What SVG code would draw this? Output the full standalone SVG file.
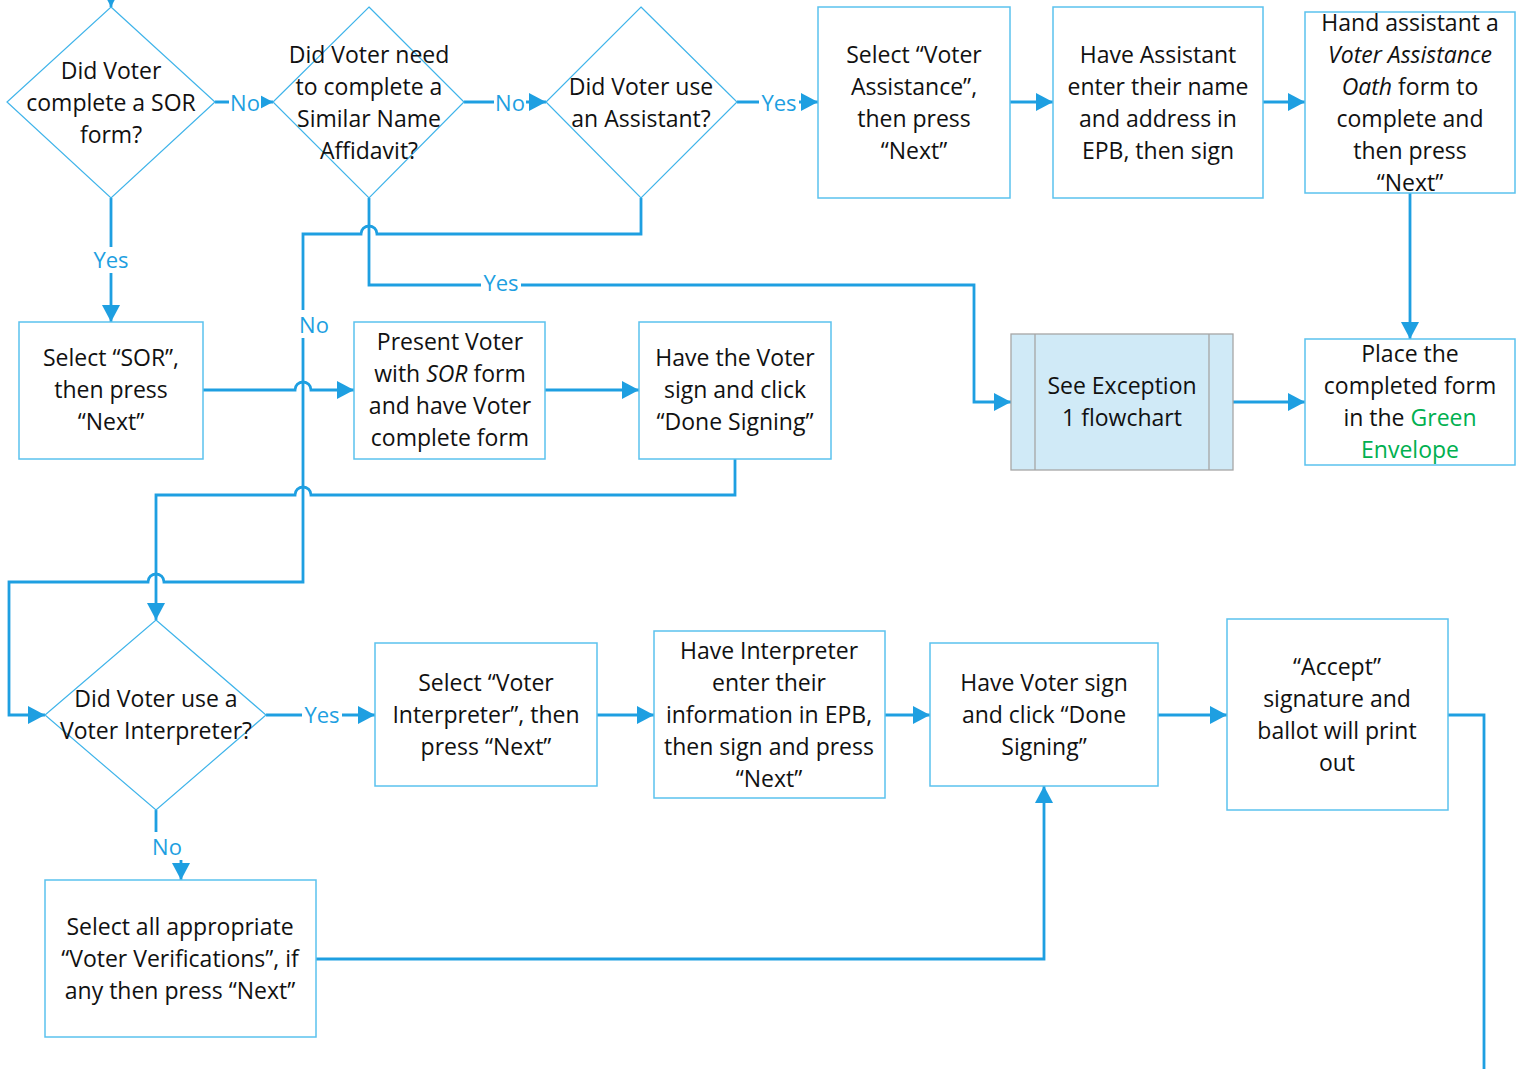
<svg xmlns="http://www.w3.org/2000/svg" width="1516" height="1069" viewBox="0 0 1516 1069">
<defs>
<style>
.n{fill:#fff;stroke:#5bc2ee;stroke-width:1.5}
.d{fill:#fff;stroke:#3fb4ea;stroke-width:1.2}
.t{font-family:"Open Sans","Noto Sans",sans-serif;font-size:23px;fill:#111;text-anchor:middle}
.c{fill:none;stroke:#1e9fe1;stroke-width:2.8}
.l{font-family:"Open Sans","Noto Sans",sans-serif;font-size:22px;fill:#1e9fe1;text-anchor:middle}
.lb{fill:#fff}
.g{fill:#00b050}
.i{font-style:italic}
</style>
<marker id="a" markerUnits="userSpaceOnUse" markerWidth="18" markerHeight="18" viewBox="0 0 18 18" refX="17" refY="9" orient="auto">
<path d="M0 0 L17 9 L0 18 Z" fill="#1e9fe1"/>
</marker>
</defs>
<rect width="1516" height="1069" fill="#fff"/>

<g id="connectors">
<path class="c" d="M111 -10 V7" marker-end="url(#a)"/>
<path class="c" d="M215 102 H273" marker-end="url(#a)"/>
<path class="c" d="M464 102 H546" marker-end="url(#a)"/>
<path class="c" d="M737 102 H818" marker-end="url(#a)"/>
<path class="c" d="M1010 102 H1053" marker-end="url(#a)"/>
<path class="c" d="M1263 102 H1305" marker-end="url(#a)"/>
<path class="c" d="M1410 193 V339" marker-end="url(#a)"/>
<path class="c" d="M1233 402 H1305" marker-end="url(#a)"/>
<path class="c" d="M111 198 V322" marker-end="url(#a)"/>
<path class="c" d="M369 198 V285 H974 V402 H1011" marker-end="url(#a)"/>
<path class="c" d="M641 198 V234 H377 A8 8 0 0 0 361 234 H303 V582 H164 A8 8 0 0 0 148 582 H9 V715 H45" marker-end="url(#a)"/>
<path class="c" d="M203 390 H295 A8 8 0 0 1 311 390 H354" marker-end="url(#a)"/>
<path class="c" d="M545 390 H639" marker-end="url(#a)"/>
<path class="c" d="M735 459 V495 H311 A8 8 0 0 0 295 495 H156 V620" marker-end="url(#a)"/>
<path class="c" d="M266 715 H375" marker-end="url(#a)"/>
<path class="c" d="M597 715 H654" marker-end="url(#a)"/>
<path class="c" d="M885 715 H930" marker-end="url(#a)"/>
<path class="c" d="M1158 715 H1227" marker-end="url(#a)"/>
<path class="c" d="M1448 715 H1484 V1069"/>
<path class="c" d="M156 810 V847 H181 V880" marker-end="url(#a)"/>
<path class="c" d="M316 959 H1044 V786" marker-end="url(#a)"/>
<rect class="lb" x="229" y="90" width="32" height="26"/><text class="l" x="245" y="111">No</text>
<rect class="lb" x="494" y="90" width="32" height="26"/><text class="l" x="510" y="111">No</text>
<rect class="lb" x="759" y="90" width="40" height="26"/><text class="l" x="779" y="111">Yes</text>
<rect class="lb" x="91" y="247" width="40" height="26"/><text class="l" x="111" y="268">Yes</text>
<rect class="lb" x="481" y="272" width="40" height="26"/><text class="l" x="501" y="291">Yes</text>
<rect class="lb" x="298" y="310" width="32" height="28"/><text class="l" x="314" y="333">No</text>
<rect class="lb" x="302" y="702" width="40" height="26"/><text class="l" x="322" y="723">Yes</text>
<rect class="lb" x="151" y="832" width="32" height="28"/><text class="l" x="167" y="855">No</text>
</g>

<g id="d1"><path class="d" d="M111 7 L215 102 L111 198 L7 102 Z"/>
<text class="t"><tspan x="111" y="79">Did Voter</tspan><tspan x="111" y="111">complete a SOR</tspan><tspan x="111" y="143">form?</tspan></text></g>

<g id="d2"><path class="d" d="M369 7 L464 102 L369 198 L273 102 Z"/>
<text class="t"><tspan x="369" y="63">Did Voter need</tspan><tspan x="369" y="95">to complete a</tspan><tspan x="369" y="127">Similar Name</tspan><tspan x="369" y="159">Affidavit?</tspan></text></g>

<g id="d3"><path class="d" d="M641 7 L737 102 L641 198 L546 102 Z"/>
<text class="t"><tspan x="641" y="95">Did Voter use</tspan><tspan x="641" y="127">an Assistant?</tspan></text></g>

<g id="b-assist"><rect class="n" x="818" y="7" width="192" height="191"/>
<text class="t"><tspan x="914" y="63">Select “Voter</tspan><tspan x="914" y="95">Assistance”,</tspan><tspan x="914" y="127">then press</tspan><tspan x="914" y="159">“Next”</tspan></text></g>

<g id="b-enter"><rect class="n" x="1053" y="7" width="210" height="191"/>
<text class="t"><tspan x="1158" y="63">Have Assistant</tspan><tspan x="1158" y="95">enter their name</tspan><tspan x="1158" y="127">and address in</tspan><tspan x="1158" y="159">EPB, then sign</tspan></text></g>

<g id="b-oath"><rect class="n" x="1305" y="12" width="210" height="181"/>
<text class="t"><tspan x="1410" y="31">Hand assistant a</tspan><tspan x="1410" y="63" class="i">Voter Assistance</tspan><tspan x="1410" y="95"><tspan class="i">Oath</tspan> form to</tspan><tspan x="1410" y="127">complete and</tspan><tspan x="1410" y="159">then press</tspan><tspan x="1410" y="191">“Next”</tspan></text></g>

<g id="b-sor"><rect class="n" x="19" y="322" width="184" height="137"/>
<text class="t"><tspan x="111" y="366">Select “SOR”,</tspan><tspan x="111" y="398">then press</tspan><tspan x="111" y="430">“Next”</tspan></text></g>

<g id="b-present"><rect class="n" x="354" y="322" width="191" height="137"/>
<text class="t"><tspan x="450" y="350">Present Voter</tspan><tspan x="450" y="382">with <tspan class="i">SOR</tspan> form</tspan><tspan x="450" y="414">and have Voter</tspan><tspan x="450" y="446">complete form</tspan></text></g>

<g id="b-signsor"><rect class="n" x="639" y="322" width="192" height="137"/>
<text class="t"><tspan x="735" y="366">Have the Voter</tspan><tspan x="735" y="398">sign and click</tspan><tspan x="735" y="430">“Done Signing”</tspan></text></g>

<g id="b-exception"><rect x="1011" y="334" width="222" height="136" fill="#d0eaf7" stroke="#a6a6a6" stroke-width="1.3"/>
<path d="M1035 334 V470 M1209 334 V470" stroke="#a6a6a6" stroke-width="1.3"/>
<text class="t"><tspan x="1122" y="394">See Exception</tspan><tspan x="1122" y="426">1 flowchart</tspan></text></g>

<g id="b-envelope"><rect class="n" x="1305" y="339" width="210" height="126"/>
<text class="t"><tspan x="1410" y="362">Place the</tspan><tspan x="1410" y="394">completed form</tspan><tspan x="1410" y="426">in the <tspan class="g">Green</tspan></tspan><tspan x="1410" y="458" class="g">Envelope</tspan></text></g>

<g id="d4"><path class="d" d="M156 620 L266 715 L156 810 L45 715 Z"/>
<text class="t"><tspan x="156" y="707">Did Voter use a</tspan><tspan x="156" y="739">Voter Interpreter?</tspan></text></g>

<g id="b-interp"><rect class="n" x="375" y="643" width="222" height="143"/>
<text class="t"><tspan x="486" y="691">Select “Voter</tspan><tspan x="486" y="723">Interpreter”, then</tspan><tspan x="486" y="755">press “Next”</tspan></text></g>

<g id="b-interpinfo"><rect class="n" x="654" y="631" width="231" height="167"/>
<text class="t"><tspan x="769" y="659">Have Interpreter</tspan><tspan x="769" y="691">enter their</tspan><tspan x="769" y="723">information in EPB,</tspan><tspan x="769" y="755">then sign and press</tspan><tspan x="769" y="787">“Next”</tspan></text></g>

<g id="b-votersign"><rect class="n" x="930" y="643" width="228" height="143"/>
<text class="t"><tspan x="1044" y="691">Have Voter sign</tspan><tspan x="1044" y="723">and click “Done</tspan><tspan x="1044" y="755">Signing”</tspan></text></g>

<g id="b-accept"><rect class="n" x="1227" y="619" width="221" height="191"/>
<text class="t"><tspan x="1337" y="675">“Accept”</tspan><tspan x="1337" y="707">signature and</tspan><tspan x="1337" y="739">ballot will print</tspan><tspan x="1337" y="771">out</tspan></text></g>

<g id="b-verif"><rect class="n" x="45" y="880" width="271" height="157"/>
<text class="t"><tspan x="180" y="935">Select all appropriate</tspan><tspan x="180" y="967">“Voter Verifications”, if</tspan><tspan x="180" y="999">any then press “Next”</tspan></text></g>
</svg>
